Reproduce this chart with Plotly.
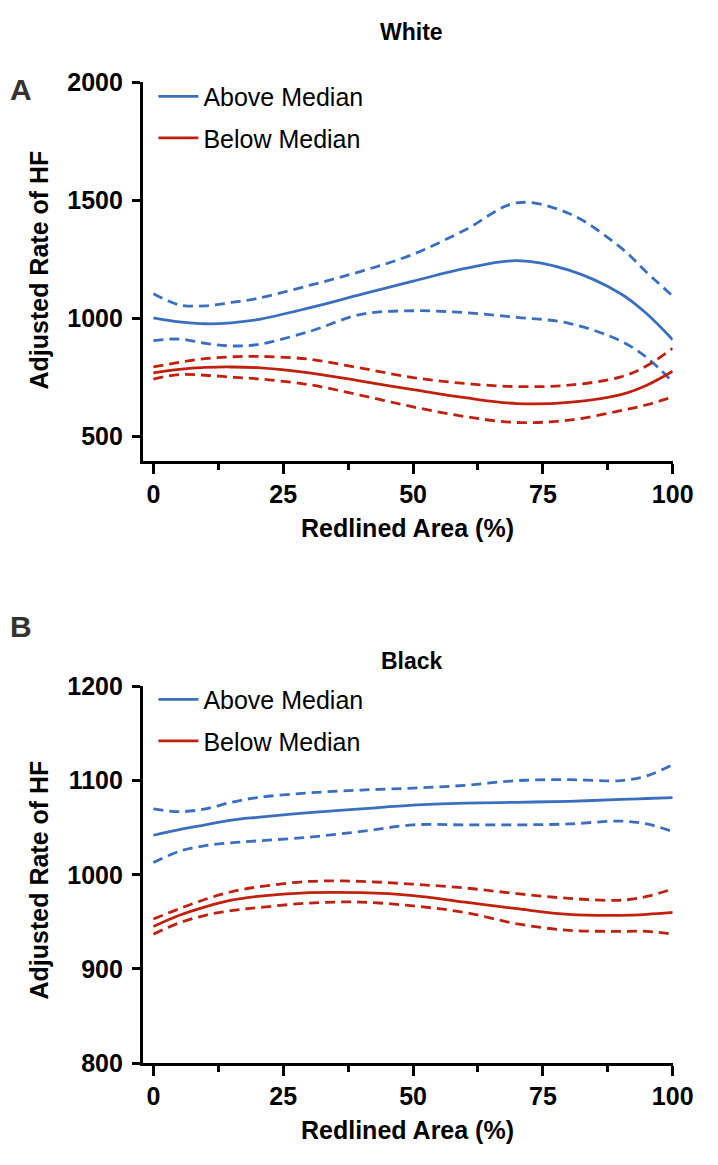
import plotly.graph_objects as go

W, H = 718, 1165

# ---------------- data ----------------
x_vals = [0, 5, 10, 15, 20, 30, 40, 50, 60, 70, 80, 90, 95, 100]

# Panel A: White
white_above = [1003, 986, 978, 982, 995, 1045, 1102, 1158, 1212, 1245, 1205, 1105, 1020, 910]
white_above_hi = [1105, 1058, 1054, 1068, 1085, 1140, 1200, 1272, 1375, 1490, 1445, 1300, 1195, 1095]
white_above_lo = [907, 913, 895, 884, 890, 945, 1018, 1033, 1025, 1005, 980, 905, 835, 731]
white_below = [770, 785, 793, 795, 792, 770, 735, 699, 665, 640, 645, 678, 718, 777]
white_below_hi = [795, 815, 830, 838, 840, 828, 790, 750, 725, 712, 718, 753, 800, 874]
white_below_lo = [744, 763, 760, 752, 745, 720, 675, 626, 585, 560, 570, 610, 635, 668]

# Panel B: Black
black_above = [1042, 1048, 1053, 1058, 1061, 1066, 1070, 1074, 1076, 1077, 1078, 1080, 1081, 1082]
black_above_hi = [1070, 1067, 1070, 1077, 1082, 1087, 1090, 1092, 1095, 1100, 1101, 1100, 1105, 1117]
black_above_lo = [1013, 1025, 1031, 1034, 1036, 1040, 1046, 1053, 1053, 1053, 1054, 1057, 1054, 1046]
black_below = [945, 957, 966, 973, 977, 981, 981, 978, 971, 964, 958, 957, 958, 960]
black_below_hi = [953, 964, 974, 982, 987, 993, 993, 990, 986, 980, 975, 973, 977, 985]
black_below_lo = [937, 949, 957, 962, 965, 970, 971, 967, 960, 948, 941, 940, 940, 937]

x_ticks = [0, 25, 50, 75, 100]
a_y_ticks = [500, 1000, 1500, 2000]
b_y_ticks = [800, 900, 1000, 1100, 1200]

BLUE = "#3a6fbf"
RED = "#c0210f"
FONT = "Liberation Sans, Arial, Helvetica, sans-serif"

fig = go.Figure()


def add_panel(xa, ya, legend, above, above_hi, above_lo, below, below_hi, below_lo):
    for ys, color, name, dash, show in [
        (above, BLUE, "Above Median", "solid", True),
        (above_hi, BLUE, "Above Median", "10px,6px", False),
        (above_lo, BLUE, "Above Median", "10px,6px", False),
        (below, RED, "Below Median", "solid", True),
        (below_hi, RED, "Below Median", "10px,6px", False),
        (below_lo, RED, "Below Median", "10px,6px", False),
    ]:
        fig.add_trace(go.Scatter(
            x=x_vals, y=ys, mode="lines", name=name,
            line=dict(color=color, width=2.8, dash=dash, shape="spline", smoothing=1.0),
            showlegend=show, legend=legend, legendgroup=legend + name,
            xaxis=xa, yaxis=ya, hoverinfo="skip",
        ))


add_panel("x", "y", "legend", white_above, white_above_hi, white_above_lo,
          white_below, white_below_hi, white_below_lo)
add_panel("x2", "y2", "legend2", black_above, black_above_hi, black_above_lo,
          black_below, black_below_hi, black_below_lo)

x0, x1 = 147 / W, 693 / W


def xaxis_cfg(anchor):
    return dict(
        domain=[x0, x1], anchor=anchor, range=[-2.06, 100],
        tickmode="array", tickvals=x_ticks, ticktext=[str(v) for v in x_ticks],
        ticks="outside", ticklen=10, tickwidth=2.5, tickcolor="black",
        minor=dict(dtick=12.5, tick0=0, ticks="outside", ticklen=6, tickwidth=2.5, tickcolor="black"),
        showline=True, linewidth=2.5, linecolor="black",
        showgrid=False, zeroline=False,
        tickfont=dict(family=FONT, size=25, color="black", weight="bold"),
        ticklabelstandoff=-1,
    )


def yaxis_cfg(anchor, dom, rng, ticks):
    return dict(
        domain=dom, anchor=anchor, range=rng,
        tickmode="array", tickvals=ticks, ticktext=[str(v) for v in ticks],
        ticks="outside", ticklen=8, tickwidth=2.5, tickcolor="black",
        showline=True, linewidth=2.5, linecolor="black",
        showgrid=False, zeroline=False,
        tickfont=dict(family=FONT, size=25, color="black", weight="bold"),
        ticklabelstandoff=4,
    )


ya_dom = [1 - 458 / H, 1 - 70 / H]
yb_dom = [1 - 1075 / H, 1 - 689 / H]

legend_common = dict(
    xref="paper", yref="paper", xanchor="left", yanchor="top",
    bgcolor="rgba(0,0,0,0)", borderwidth=0,
    font=dict(family=FONT, size=25, color="black"),
    itemwidth=40, tracegroupgap=6, traceorder="grouped",
)

fig.update_layout(
    width=W, height=H, autosize=False,
    margin=dict(l=0, r=0, t=0, b=0),
    paper_bgcolor="white", plot_bgcolor="white",
    xaxis=xaxis_cfg("y"),
    yaxis=yaxis_cfg("x", ya_dom, [397, 2000], a_y_ticks),
    xaxis2=xaxis_cfg("y2"),
    yaxis2=yaxis_cfg("x2", yb_dom, [800, 1200], b_y_ticks),
    legend=dict(x=158 / W, y=1 - 61 / H, **legend_common),
    legend2=dict(x=158 / W, y=1 - 679 / H, **legend_common),
)


def ann(text, x, y, size, bold=True, color="black", angle=0):
    fig.add_annotation(
        text=text, x=x / W, y=1 - y / H, xref="paper", yref="paper",
        xanchor="center", yanchor="middle", showarrow=False, textangle=angle,
        font=dict(family=FONT, size=size, color=color, weight="bold" if bold else "normal"),
    )


ann("White", 424, 18, 23)
ann("Black", 424, 663, 23)
ann("A", 22, 77, 30, color="#333333")
ann("B", 22, 628, 30, color="#333333")
ann("Redlined Area (%)", 420, 527, 25)
ann("Redlined Area (%)", 420, 1143, 25)
ann("Adjusted Rate of HF", 40, 262, 25, angle=-90)
ann("Adjusted Rate of HF", 40, 887, 25, angle=-90)

fig.write_html(
    "out.html",
    config={"displayModeBar": False},
    post_script="document.body.style.margin='0';document.body.style.overflow='hidden';",
)
